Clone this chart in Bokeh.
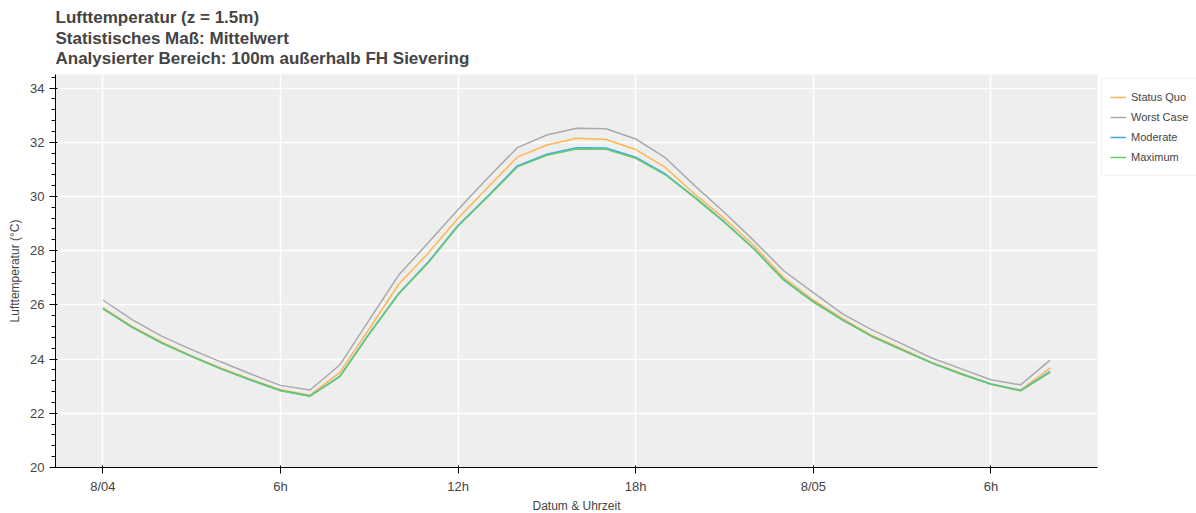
from bokeh.plotting import figure
from bokeh.models import Range1d, FixedTicker, Legend, LegendItem
from bokeh.embed import file_html
from bokeh.resources import INLINE

hours = list(range(33))
status_quo = [25.90, 25.20, 24.62, 24.12, 23.66, 23.25, 22.87, 22.67, 23.50, 25.12, 26.77, 27.92, 29.20,
              30.33, 31.45, 31.90, 32.15, 32.10, 31.73, 31.07, 30.08, 29.18, 28.18, 27.01, 26.18,
              25.48, 24.86, 24.37, 23.88, 23.47, 23.08, 22.86, 23.67]
worst_case = [26.18, 25.45, 24.84, 24.35, 23.89, 23.45, 23.03, 22.86, 23.78, 25.45, 27.11, 28.30, 29.52,
              30.68, 31.80, 32.27, 32.52, 32.50, 32.12, 31.43, 30.39, 29.41, 28.36, 27.26, 26.45,
              25.66, 25.07, 24.56, 24.04, 23.64, 23.24, 23.05, 23.96]
moderate = [25.86, 25.17, 24.59, 24.10, 23.64, 23.23, 22.84, 22.64, 23.36, 24.95, 26.43, 27.59, 28.94,
            30.01, 31.13, 31.56, 31.80, 31.79, 31.45, 30.83, 29.97, 29.06, 28.07, 26.93, 26.12,
            25.44, 24.83, 24.34, 23.86, 23.45, 23.08, 22.84, 23.55]
maximum = [25.86, 25.16, 24.58, 24.09, 23.63, 23.22, 22.83, 22.63, 23.34, 24.92, 26.41, 27.56, 28.91,
           29.98, 31.09, 31.52, 31.75, 31.74, 31.41, 30.80, 29.95, 29.04, 28.05, 26.91, 26.10,
           25.43, 24.82, 24.33, 23.85, 23.44, 23.07, 22.83, 23.51]

series_names = ["Status Quo", "Worst Case", "Moderate", "Maximum"]
tick_positions = [0, 6, 12, 18, 24, 30]
tick_labels = ["8/04", "6h", "12h", "18h", "8/05", "6h"]

colors = ["#FFB74D", "#AAAAAA", "#42A5F5", "#66CC66"]
FONT = "Liberation Sans"

p = figure(frame_width=1042, frame_height=393, output_backend="svg", toolbar_location=None,
           title="Lufttemperatur (z = 1.5m)\nStatistisches Maß: Mittelwert\nAnalysierter Bereich: 100m außerhalb FH Sievering",
           x_range=Range1d(-1.6, 33.6), y_range=Range1d(20, 34.5),
           min_border_left=55, min_border_right=0, min_border_top=8, min_border_bottom=0)

p.title.text_font = FONT
p.title.text_font_size = "17px"
p.title.text_font_style = "bold"
p.title.text_color = "#444444"
p.title.text_line_height = 1.08
p.title.standoff = 12

p.background_fill_color = "#EEEEEE"
p.border_fill_color = "white"
p.outline_line_color = None
p.xgrid.grid_line_color = "white"
p.ygrid.grid_line_color = "white"
p.xgrid.grid_line_width = 1.5
p.ygrid.grid_line_width = 1.5

p.xaxis.ticker = FixedTicker(ticks=tick_positions)
p.xaxis.major_label_overrides = {pos: lab for pos, lab in zip(tick_positions, tick_labels)}
p.xaxis.minor_tick_line_color = None
p.xaxis.axis_label = "Datum & Uhrzeit"
p.xaxis.axis_label_standoff = 2
p.yaxis.axis_label = "Lufttemperatur (°C)"
p.yaxis.ticker.desired_num_ticks = 8

for ax in (p.xaxis[0], p.yaxis[0]):
    ax.axis_label_text_font = FONT
    ax.axis_label_text_font_size = "12px"
    ax.axis_label_text_font_style = "normal"
    ax.axis_label_text_color = "#444444"
    ax.major_label_text_font = FONT
    ax.major_label_text_font_size = "13px"
    ax.major_label_text_color = "#444444"
    ax.axis_line_color = "black"

data = [status_quo, worst_case, moderate, maximum]
renderers = []
for name, ys, c in zip(series_names, data, colors):
    r = p.line(hours, ys, line_color=c, line_width=1.5)
    renderers.append(r)

legend = Legend(items=[LegendItem(label=n, renderers=[r]) for n, r in zip(series_names, renderers)],
                location="top_left")
legend.label_text_font = FONT
legend.label_text_font_size = "11px"
legend.label_text_color = "#444444"
legend.glyph_width = 16
legend.glyph_height = 20
legend.label_height = 20
legend.spacing = 0
legend.padding = 8
legend.margin = 4
legend.label_standoff = 5
legend.border_line_color = "#E5E5E5"
legend.background_fill_color = "white"
p.add_layout(legend, "right")

open("out.html", "w").write(file_html(p, INLINE))
